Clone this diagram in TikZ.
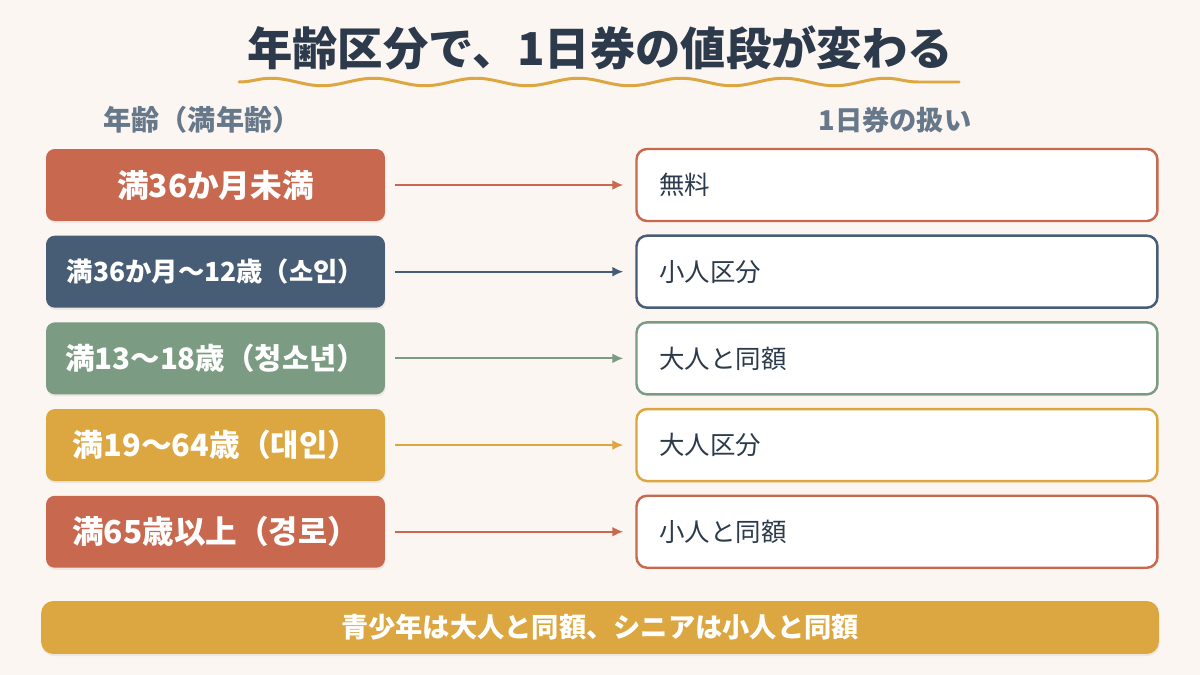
\documentclass[tikz,border=0pt]{standalone}
\usepackage{fontspec}
\setmainfont{Noto Sans CJK JP}
\usepackage{tikz}
\usetikzlibrary{arrows.meta,positioning,shadows,decorations.pathmorphing}
\definecolor{bgcream}{HTML}{FBF6F1}
\definecolor{inkdark}{HTML}{2C3A4B}
\definecolor{headgray}{HTML}{66788A}
\definecolor{brick}{HTML}{C8694F}
\definecolor{slate}{HTML}{475D75}
\definecolor{sage}{HTML}{7B9B82}
\definecolor{mustard}{HTML}{DCA640}

\begin{document}
\begin{tikzpicture}[
  x=0.02cm,y=-0.02cm,
  node distance=0.28cm,
  agebox/.style={fill=#1,rounded corners=5pt,text=white,
                 minimum width=6.78cm,minimum height=1.44cm,inner sep=0pt,
                 font=\fontsize{16}{19}\selectfont\bfseries,
                 drop shadow={opacity=0.12,shadow xshift=0.4pt,shadow yshift=-1.2pt}},
  farebox/.style={draw=#1,line width=1.4pt,fill=white,rounded corners=6pt,
                  minimum width=10.42cm,minimum height=1.44cm,
                  text width=9.5cm,inner xsep=0.46cm,align=left,text=inkdark,
                  font=\fontsize{14.5}{17}\selectfont},
  header/.style={text=headgray,font=\fontsize{15.5}{18}\selectfont\bfseries},
  arr/.style={-{Latex[length=2.2mm,width=2mm]},line width=1.1pt,#1},
]
  \fill[bgcream] (0,0) rectangle (1200,675);

  % title and underline
  \node[text=inkdark,font=\fontsize{25.8}{30}\selectfont\bfseries] (title) at (600,48)
    {年齢区分で、1日券の値段が変わる};
  \coordinate (waveL) at (239,82);
  \coordinate (waveR) at (959,82);
  \draw[mustard,line width=1.7pt,line cap=round,
        decorate,decoration={snake,segment length=2.05cm,amplitude=0.075cm}]
    (waveL) -- (waveR);

  % column headers
  \node[header,font=\fontsize{16}{18}\selectfont\bfseries] (hdrage) at (202,120) {年齢（満年齢）};
  \node[header] (hdrfare) at (895,120) {1日券の扱い};

  % age groups
  \node[agebox=brick,font=\fontsize{18}{21}\selectfont\bfseries] (age1) at (215.5,185)
    {満36か月未満};
  \node[agebox=slate,font=\fontsize{15}{18}\selectfont\bfseries,below=of age1] (age2)
    {満36か月～12歳（소인）};
  \node[agebox=sage,font=\fontsize{16.8}{19}\selectfont\bfseries,below=of age2] (age3)
    {満13～18歳（청소년）};
  \node[agebox=mustard,font=\fontsize{17.5}{20}\selectfont\bfseries,below=of age3] (age4)
    {満19～64歳（대인）};
  \node[agebox=brick,font=\fontsize{18}{21}\selectfont\bfseries,below=of age4] (age5)
    {満65歳以上（경로）};

  % fares
  \node[farebox=brick,right=5cm of age1] (fare1) {無料};
  \node[farebox=slate,right=5cm of age2] (fare2) {小人区分};
  \node[farebox=sage,right=5cm of age3] (fare3) {大人と同額};
  \node[farebox=mustard,right=5cm of age4] (fare4) {大人区分};
  \node[farebox=brick,right=5cm of age5] (fare5) {小人と同額};

  \draw[arr=brick,shorten <=0.2cm,shorten >=0.24cm] (age1) -- (fare1);
  \draw[arr=slate,shorten <=0.2cm,shorten >=0.24cm] (age2) -- (fare2);
  \draw[arr=sage,shorten <=0.2cm,shorten >=0.24cm] (age3) -- (fare3);
  \draw[arr=mustard,shorten <=0.2cm,shorten >=0.24cm] (age4) -- (fare4);
  \draw[arr=brick,shorten <=0.2cm,shorten >=0.24cm] (age5) -- (fare5);

  % summary banner
  \node[fill=mustard,rounded corners=7pt,text=white,
        minimum width=22.36cm,minimum height=1.06cm,inner sep=0pt,
        font=\fontsize{15.5}{18}\selectfont\bfseries,
        drop shadow={opacity=0.12,shadow xshift=0.4pt,shadow yshift=-1.2pt}]
    (summary) at (600,627.5) {青少年は大人と同額、シニアは小人と同額};
\end{tikzpicture}
\end{document}
